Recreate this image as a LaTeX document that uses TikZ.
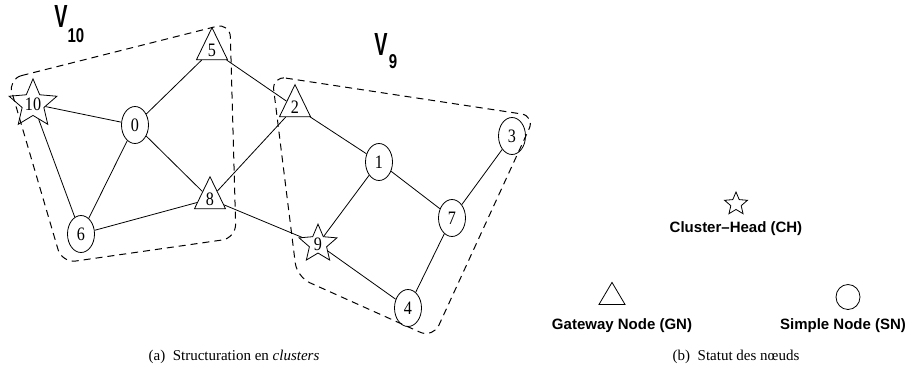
\documentclass[tikz,border=0pt]{standalone}
\usepackage{fontspec}
\setmainfont{Liberation Serif}
\newfontfamily\hv{Liberation Sans}
\usetikzlibrary{shapes.geometric}
\newcommand{\nx}[1]{\scalebox{0.85}[1]{#1}}
\tikzset{
  sn/.style={draw, ellipse, minimum width=27pt, minimum height=37pt, inner sep=0pt, line width=0.8pt, font=\fontsize{19}{19}\selectfont},
  gn/.style={draw, isosceles triangle, shape border rotate=90, isosceles triangle stretches, minimum width=31pt, minimum height=32pt, inner sep=0pt, line width=0.8pt, font=\fontsize{19}{19}\selectfont},
  ch/.style={draw, star, star points=5, star point ratio=2.2, minimum size=38pt, inner sep=0pt, line width=0.8pt, font=\fontsize{19}{19}\selectfont},
  link/.style={line width=0.8pt},
  cluster/.style={line width=1pt, dash pattern=on 7pt off 5pt, rounded corners=14pt},
  vbig/.style={font=\hv\bfseries\fontsize{32}{32}\selectfont, inner sep=0pt},
  vsub/.style={font=\hv\bfseries\fontsize{20}{20}\selectfont, inner sep=0pt},
  legtxt/.style={font=\hv\bfseries\fontsize{15}{15}\selectfont, inner sep=0pt},
  captxt/.style={font=\fontsize{15}{15}\selectfont, inner sep=0pt},
}
\begin{document}
\begin{tikzpicture}[x=1pt,y=-1pt]
\useasboundingbox (0,0) rectangle (915,383);
% clusters
\draw[cluster] (8,79) -- (230,23) -- (236,238) -- (62,263) -- cycle;
\draw[cluster] (272,76) -- (535,116) -- (433,338) -- (297,277) -- cycle;
% labels
\node[vbig] (v10) at (61,16) {\scalebox{0.62}[1]{V}};
\node[vsub] (v10s) at (76,36) {\scalebox{0.75}[1]{10}};
\node[vbig] (v9) at (381,44) {\scalebox{0.62}[1]{V}};
\node[vsub] (v9s) at (393,62) {\scalebox{0.75}[1]{9}};
% nodes
\node[ch] (n10) at (33,104) {\nx{10}};
\node[sn] (n0) at (135,125) {\nx{0}};
\node[gn] (n5) at (212,50) {\nx{5}};
\node[gn] (n8) at (210,199) {\nx{8}};
\node[sn] (n6) at (81,234) {\nx{6}};
\node[gn] (n2) at (295,107) {\nx{2}};
\node[sn] (n1) at (379,162) {\nx{1}};
\node[sn] (n3) at (512,136) {\nx{3}};
\node[sn] (n7) at (452,218) {\nx{7}};
\node[ch] (n9) at (318,244) {\nx{9}};
\node[sn] (n4) at (408,308) {\nx{4}};
% links
\draw[link] (n10) -- (n0);
\draw[link] (n10) -- (n6);
\draw[link] (n0) -- (n5);
\draw[link] (n0) -- (n6);
\draw[link] (n0) -- (n8);
\draw[link] (n5) -- (n2);
\draw[link] (n8) -- (n2);
\draw[link] (n6) -- (n8);
\draw[link] (n8) -- (n9);
\draw[link] (n2) -- (n1);
\draw[link] (n1) -- (n9);
\draw[link] (n1) -- (n7);
\draw[link] (n9) -- (n4);
\draw[link] (n7) -- (n4);
\draw[link] (n7) -- (n3);
% legend
\node[draw, star, star points=5, star point ratio=2.2, minimum size=24pt, inner sep=0pt, line width=0.8pt] (lch) at (736,204) {};
\node[legtxt] (lcht) at (736,229) {Cluster–Head (CH)};
\node[draw, isosceles triangle, shape border rotate=90, isosceles triangle stretches, minimum width=26pt, minimum height=22pt, inner sep=0pt, line width=0.8pt] (lgn) at (612,297) {};
\node[legtxt] (lgnt) at (622,326) {Gateway Node (GN)};
\node[draw, ellipse, minimum width=24pt, minimum height=25pt, inner sep=0pt, line width=0.8pt] (lsn) at (848,297) {};
\node[legtxt] (lsnt) at (843,326) {Simple Node (SN)};
% captions
\node[captxt] (capa) at (234,357) {(a)\ \ Structuration en \textit{clusters}};
\node[captxt] (capb) at (736,357) {(b)\ \ Statut des nœuds};
\end{tikzpicture}
\end{document}
